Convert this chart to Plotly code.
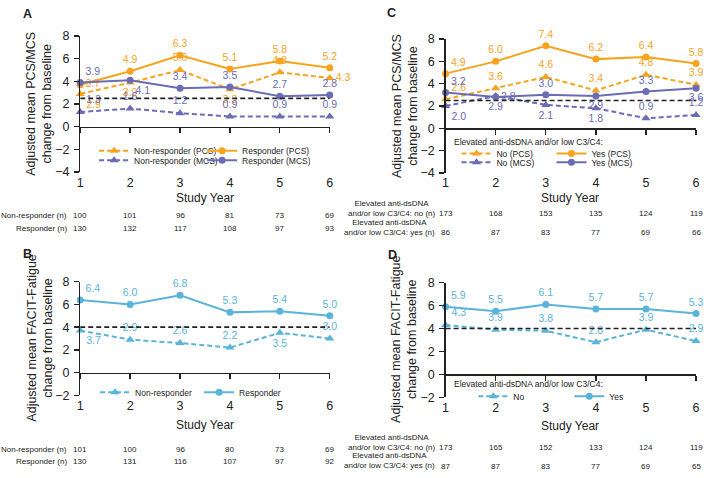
import plotly.graph_objects as go

# ---------------- data ----------------
YEARS = [1, 2, 3, 4, 5, 6]

A_NONRESP_PCS = [2.9, 3.9, 5.0, 3.3, 4.8, 4.3]
A_RESP_PCS = [3.7, 4.9, 6.3, 5.1, 5.8, 5.2]
A_NONRESP_MCS = [1.3, 1.6, 1.2, 0.9, 0.9, 0.9]
A_RESP_MCS = [3.9, 4.1, 3.4, 3.5, 2.7, 2.8]
A_N_NONRESP = [100, 101, 96, 81, 73, 69]
A_N_RESP = [130, 132, 117, 108, 97, 93]

B_NONRESP = [3.7, 2.9, 2.6, 2.2, 3.5, 3.0]
B_RESP = [6.4, 6.0, 6.8, 5.3, 5.4, 5.0]
B_N_NONRESP = [101, 100, 96, 80, 73, 69]
B_N_RESP = [130, 131, 116, 107, 97, 92]

C_NO_PCS = [2.6, 3.6, 4.6, 3.4, 4.8, 3.9]
C_YES_PCS = [4.9, 6.0, 7.4, 6.2, 6.4, 5.8]
C_NO_MCS = [2.0, 2.9, 2.1, 1.8, 0.9, 1.2]
C_YES_MCS = [3.2, 2.8, 3.0, 2.9, 3.3, 3.6]
C_N_NO = [173, 168, 153, 135, 124, 119]
C_N_YES = [86, 87, 83, 77, 69, 66]

D_NO = [4.3, 3.9, 3.8, 2.8, 3.9, 2.9]
D_YES = [5.9, 5.5, 6.1, 5.7, 5.7, 5.3]
D_N_NO = [173, 165, 152, 133, 124, 119]
D_N_YES = [87, 87, 83, 77, 69, 65]

MCID_SF36 = 2.5
MCID_FACIT = 4.0

# ---------------- styles ----------------
W, H = 709, 478
FONT = "Liberation Sans, Arial, sans-serif"
ORANGE = "#F6A31E"
PURPLE = "#6B6CB4"
BLUE = "#5AB4DA"
DASH = "5px,3px"

def px(x):
    return x / W

def py(y):
    return 1 - y / H

PANELS = {
    "A": dict(x0=78, x1=330, y0=30, y1=170, rng=[-4, 8]),
    "B": dict(x0=78, x1=330, y0=283, y1=400, rng=[-2, 8]),
    "C": dict(x0=447, x1=700, y0=33, y1=171, rng=[-4, 8]),
    "D": dict(x0=447, x1=700, y0=284, y1=402, rng=[-2, 8]),
}

fig = go.Figure()

def zero_pos(p):
    lo, hi = p["rng"]
    b, t = py(p["y1"]), py(p["y0"])
    return b + (0 - lo) / (hi - lo) * (t - b)

def line_trace(y, name, color, solid, ax, legend, tpos, showleg=True):
    return go.Scatter(
        x=YEARS, y=y, name=name, xaxis=ax[0], yaxis=ax[1],
        mode="lines+markers+text",
        line=dict(color=color, width=2, dash=None if solid else DASH),
        marker=dict(symbol="circle" if solid else "triangle-up",
                    size=7 if solid else 8, color=color),
        text=[f"{v:.1f}" for v in y], textposition=tpos,
        textfont=dict(color=color, size=10.5, family=FONT),
        cliponaxis=False, legend=legend, showlegend=showleg,
    )

def mcid_trace(val, ax):
    return go.Scatter(
        x=[YEARS[0], YEARS[-1]], y=[val, val], xaxis=ax[0], yaxis=ax[1],
        mode="lines", line=dict(color="#222", width=1.6, dash=DASH),
        showlegend=False, hoverinfo="skip",
    )

TC = "top center"
BC = "bottom center"
# panel A
axA = ("x", "y")
fig.add_trace(line_trace(A_NONRESP_PCS, "Non-responder (PCS)", ORANGE, False, axA, "legend",
                         ["bottom right", BC, TC, BC, TC, "middle right"]))
fig.add_trace(line_trace(A_RESP_PCS, "Responder (PCS)", ORANGE, True, axA, "legend",
                         ["middle right", TC, TC, TC, TC, TC]))
fig.add_trace(line_trace(A_NONRESP_MCS, "Non-responder (MCS)", PURPLE, False, axA, "legend2",
                         ["top right", TC, TC, TC, TC, TC]))
fig.add_trace(line_trace(A_RESP_MCS, "Responder (MCS)", PURPLE, True, axA, "legend2",
                         ["top right", "bottom right", TC, TC, TC, TC]))
fig.add_trace(mcid_trace(MCID_SF36, ("x5", "y")))

# panel B
axB = ("x2", "y2")
fig.add_trace(line_trace(B_NONRESP, "Non-responder", BLUE, False, axB, "legend3",
                         ["bottom right", TC, TC, TC, BC, TC]))
fig.add_trace(line_trace(B_RESP, "Responder", BLUE, True, axB, "legend3",
                         ["top right", TC, TC, TC, TC, TC]))
fig.add_trace(mcid_trace(MCID_FACIT, ("x6", "y2")))

# panel C
axC = ("x3", "y3")
fig.add_trace(line_trace(C_NO_PCS, "No (PCS)", ORANGE, False, axC, "legend4",
                         ["top right", TC, TC, TC, TC, TC]))
fig.add_trace(line_trace(C_YES_PCS, "Yes (PCS)", ORANGE, True, axC, "legend4",
                         ["top right", TC, TC, TC, TC, TC]))
fig.add_trace(line_trace(C_NO_MCS, "No (MCS)", PURPLE, False, axC, "legend5",
                         ["bottom right", BC, BC, BC, TC, TC]))
fig.add_trace(line_trace(C_YES_MCS, "Yes (MCS)", PURPLE, True, axC, "legend5",
                         ["top right", "middle right", TC, BC, TC, BC]))
fig.add_trace(mcid_trace(MCID_SF36, ("x7", "y3")))

# panel D
axD = ("x4", "y4")
fig.add_trace(line_trace(D_NO, "No", BLUE, False, axD, "legend6",
                         ["top right", TC, TC, TC, TC, TC]))
fig.add_trace(line_trace(D_YES, "Yes", BLUE, True, axD, "legend6",
                         ["top right", TC, TC, TC, TC, TC]))
fig.add_trace(mcid_trace(MCID_FACIT, ("x8", "y4")))

layout = dict(
    width=W, height=H, margin=dict(l=0, r=0, t=0, b=0),
    paper_bgcolor="white", plot_bgcolor="white",
    font=dict(family=FONT, color="#222", size=11),
    showlegend=True,
)

tickfont = dict(family=FONT, size=12.5, color="#222")
keys = ["A", "B", "C", "D"]
for i, k in enumerate(keys):
    p = PANELS[k]
    n = i + 1
    sx = "" if n == 1 else str(n)
    xdom = [px(p["x0"]), px(p["x1"])]
    ydom = [py(p["y1"]), py(p["y0"])]
    ymin, ymax = p["rng"]
    layout["xaxis" + sx] = dict(
        domain=xdom, range=[YEARS[0], YEARS[-1]], anchor="free", position=zero_pos(p),
        showline=True, linecolor="#222", linewidth=1.3, ticks="outside", ticklen=5,
        tickcolor="#222", tickwidth=1.3, tickvals=YEARS, showticklabels=False,
        showgrid=False, zeroline=False, fixedrange=True,
    )
    layout["xaxis" + str(n + 4)] = dict(
        overlaying="x" + sx, anchor="y" + sx, range=[YEARS[0], YEARS[-1]],
        showline=False, ticks="", ticklen=0, tickvals=YEARS, ticktext=[str(v) for v in YEARS],
        tickfont=tickfont, showgrid=False, zeroline=False, ticklabelstandoff=1,
    )
    layout["yaxis" + sx] = dict(
        domain=ydom, range=[ymin, ymax], anchor="x" + sx,
        tickvals=list(range(ymin, ymax + 1, 2)),
        ticktext=[("\u2212" + str(-v)) if v < 0 else str(v) for v in range(ymin, ymax + 1, 2)],
        showline=True, linecolor="#222", linewidth=1.3, ticks="outside", ticklen=5,
        tickcolor="#222", tickwidth=1.3, tickfont=tickfont, showgrid=False, zeroline=False,
        ticklabelstandoff=2,
    )

LF = 8.5
def leg(x, y, entry):
    return dict(orientation="h", x=px(x), y=py(y), xanchor="left", yanchor="middle",
                font=dict(family=FONT, size=LF, color="#222"), bgcolor="rgba(0,0,0,0)",
                entrywidth=entry, entrywidthmode="pixels", itemwidth=30,
                tracegroupgap=0, itemclick=False, itemdoubleclick=False)

layout["legend"] = leg(92, 148, 63)
layout["legend2"] = leg(92, 158, 63)
layout["legend3"] = leg(93, 397, 59)
layout["legend4"] = leg(458, 151, 50)
layout["legend5"] = leg(458, 160, 50)
layout["legend6"] = leg(475, 401, 51)

annotations = []

def ann(x, y, text, size=11, xanchor="center", yanchor="middle", bold=False, align="center",
        xref="paper", textangle=0):
    annotations.append(dict(
        x=x, y=y, xref=xref, yref="paper", text=f"<b>{text}</b>" if bold else text,
        showarrow=False, xanchor=xanchor, yanchor=yanchor, align=align, textangle=textangle,
        font=dict(family=FONT, size=size, color="#222")))

ann(px(25), py(7), "A", size=12.5, bold=True)
ann(px(25), py(254), "B", size=12.5, bold=True)
ann(px(392), py(6), "C", size=12.5, bold=True)
ann(px(393), py(255), "D", size=12.5, bold=True)

ann(px(36), py(100), "Adjusted mean PCS/MCS<br>change from baseline", size=12.5, textangle=-90)
ann(px(37), py(341), "Adjusted mean FACIT-Fatigue<br>change from baseline", size=12.5, textangle=-90)
ann(px(406), py(102), "Adjusted mean PCS/MCS<br>change from baseline", size=12.5, textangle=-90)
ann(px(405), py(343), "Adjusted mean FACIT-Fatigue<br>change from baseline", size=12.5, textangle=-90)

ann(px(204), py(197), "Study Year", size=12)
ann(px(204), py(431), "Study Year", size=12)
ann(px(573), py(197), "Study Year", size=12)
ann(px(573), py(432), "Study Year", size=12)

ann(px(453), py(139), "Elevated anti-dsDNA and/or low C3/C4:", size=LF, xanchor="left")
ann(px(453), py(388), "Elevated anti-dsDNA and/or low C3/C4:", size=LF, xanchor="left")

TS = 8
def table_row(xaxis, y, values):
    for yr, v in zip(YEARS, values):
        annotations.append(dict(x=yr, y=py(y), xref=xaxis, yref="paper", text=str(v),
                                showarrow=False, xanchor="center", yanchor="middle",
                                font=dict(family=FONT, size=TS, color="#222")))

ann(px(67), py(215), "Non-responder (n)", size=TS, xanchor="right")
ann(px(67), py(228), "Responder (n)", size=TS, xanchor="right")
table_row("x", 215, A_N_NONRESP)
table_row("x", 228, A_N_RESP)

ann(px(67), py(456), "Non-responder (n)", size=TS, xanchor="right")
ann(px(67), py(468), "Responder (n)", size=TS, xanchor="right")
table_row("x2", 456, B_N_NONRESP)
table_row("x2", 468, B_N_RESP)

ann(px(438), py(208), "Elevated anti-dsDNA<br>and/or low C3/C4: no (n)", size=TS, xanchor="right")
ann(px(438), py(227), "Elevated anti-dsDNA<br>and/or low C3/C4: yes (n)", size=TS, xanchor="right")
table_row("x3", 213, C_N_NO)
table_row("x3", 232, C_N_YES)

ann(px(438), py(449), "Elevated anti-dsDNA<br>and/or low C3/C4: no (n)", size=TS, xanchor="right")
ann(px(438), py(467.5), "Elevated anti-dsDNA<br>and/or low C3/C4: yes (n)", size=TS, xanchor="right")
table_row("x4", 454, D_N_NO)
table_row("x4", 473, D_N_YES)

layout["annotations"] = annotations
fig.update_layout(**layout)
fig.write_html("out.html", config={"displayModeBar": False, "staticPlot": True},
               post_script="document.body.style.margin='0px';document.body.style.overflow='hidden';")
